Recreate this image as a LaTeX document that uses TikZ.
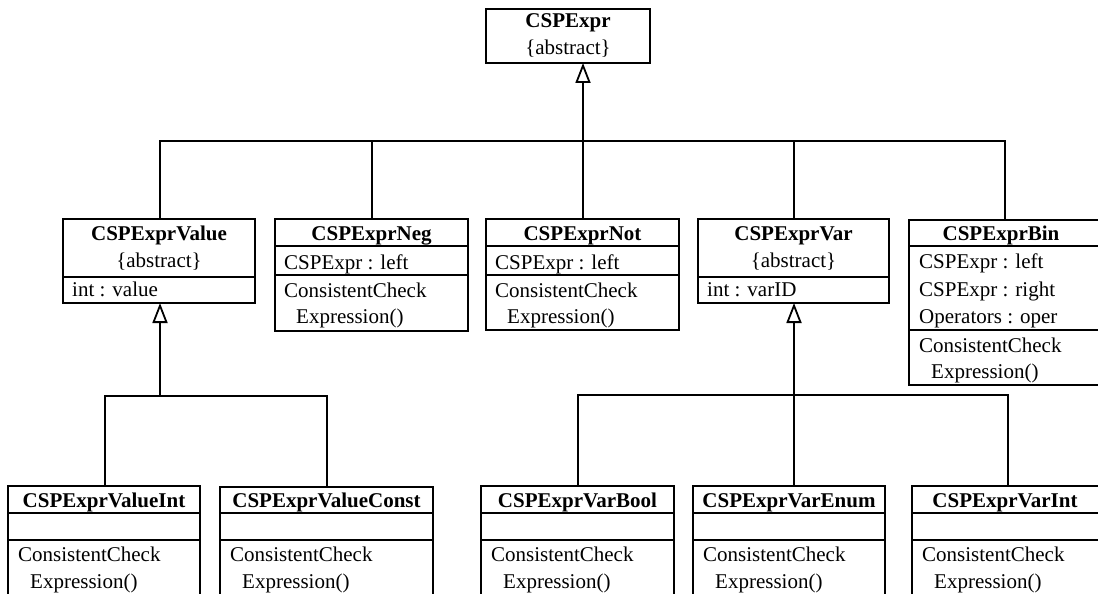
\documentclass[tikz,border=0pt]{standalone}
\usepackage{fontspec}
\setmainfont{Liberation Serif}
\usetikzlibrary{arrows.meta}

\tikzset{
  cls/.style={draw, line width=1.8pt, anchor=north west, inner sep=0pt, outer sep=0pt},
  sep/.style={line width=1.8pt},
  ttl/.style={anchor=base, inner sep=0pt, font=\fontsize{21}{25}\selectfont\bfseries},
  mid/.style={anchor=base, inner sep=0pt, font=\fontsize{21}{25}\selectfont},
  txt/.style={anchor=base west, inner sep=0pt, font=\fontsize{21}{25}\selectfont},
  link/.style={line width=1.8pt},
  inherit/.style={link, -{Triangle[open, length=20pt, width=15pt, line width=1.8pt]}},
}

\begin{document}
\begin{tikzpicture}[x=1pt, y=-1pt]
\useasboundingbox (0,0) rectangle (1098,594);
\clip (0,0) rectangle (1098,594);

% ---------- root class ----------
\node[cls, minimum width=164pt, minimum height=54pt] (expr) at (486,9) {};
\node[ttl] (exprT) at (568,28) {CSPExpr};
\node[mid] (exprA) at (568,55) {\{abstract\}};

% ---------- second level ----------
% CSPExprValue
\node[cls, minimum width=192pt, minimum height=84pt] (val) at (63,219) {};
\node[ttl] (valT) at (159,240) {CSPExprValue};
\node[mid] (valA) at (159,267) {\{abstract\}};
\draw[sep] (63,277) -- (255,277);
\node[txt] (valF) at (72,296) {int : value};

% CSPExprNeg
\node[cls, minimum width=193pt, minimum height=112pt] (neg) at (275,219) {};
\node[ttl] (negT) at (371.5,240) {CSPExprNeg};
\draw[sep] (275,246) -- (468,246);
\node[txt] (negF) at (284,269) {CSPExpr : left};
\draw[sep] (275,275) -- (468,275);
\node[txt] (negM1) at (284,297) {ConsistentCheck};
\node[txt] (negM2) at (296,323) {Expression()};

% CSPExprNot
\node[cls, minimum width=193pt, minimum height=111pt] (not) at (486,219) {};
\node[ttl] (notT) at (582.5,240) {CSPExprNot};
\draw[sep] (486,246) -- (679,246);
\node[txt] (notF) at (495,269) {CSPExpr : left};
\draw[sep] (486,275) -- (679,275);
\node[txt] (notM1) at (495,297) {ConsistentCheck};
\node[txt] (notM2) at (507,323) {Expression()};

% CSPExprVar
\node[cls, minimum width=191pt, minimum height=84pt] (var) at (698,219) {};
\node[ttl] (varT) at (793.5,240) {CSPExprVar};
\node[mid] (varA) at (793.5,267) {\{abstract\}};
\draw[sep] (698,277) -- (889,277);
\node[txt] (varF) at (707,296) {int : varID};

% CSPExprBin
\node[cls, minimum width=193pt, minimum height=165pt] (bin) at (909,220) {};
\node[ttl] (binT) at (1001,240) {CSPExprBin};
\draw[sep] (909,246) -- (1102,246);
\node[txt] (binF1) at (919,268) {CSPExpr : left};
\node[txt] (binF2) at (919,296) {CSPExpr : right};
\node[txt] (binF3) at (919,323) {Operators : oper};
\draw[sep] (909,330) -- (1102,330);
\node[txt] (binM1) at (919,352) {ConsistentCheck};
\node[txt] (binM2) at (931,378) {Expression()};

% ---------- third level ----------
% CSPExprValueInt
\node[cls, minimum width=192pt, minimum height=130pt] (vint) at (8,486) {};
\node[ttl] (vintT) at (104,507) {CSPExprValueInt};
\draw[sep] (8,513) -- (200,513);
\draw[sep] (8,540) -- (200,540);
\node[txt] (vintM1) at (18,561) {ConsistentCheck};
\node[txt] (vintM2) at (30,588) {Expression()};

% CSPExprValueConst
\node[cls, minimum width=213pt, minimum height=130pt] (vconst) at (220,487) {};
\node[ttl] (vconstT) at (326.5,507) {CSPExprValueConst};
\draw[sep] (220,513) -- (433,513);
\draw[sep] (220,540) -- (433,540);
\node[txt] (vconstM1) at (230,561) {ConsistentCheck};
\node[txt] (vconstM2) at (242,588) {Expression()};

% CSPExprVarBool
\node[cls, minimum width=193pt, minimum height=130pt] (vbool) at (481,486) {};
\node[ttl] (vboolT) at (577.5,507) {CSPExprVarBool};
\draw[sep] (481,513) -- (674,513);
\draw[sep] (481,540) -- (674,540);
\node[txt] (vboolM1) at (491,561) {ConsistentCheck};
\node[txt] (vboolM2) at (503,588) {Expression()};

% CSPExprVarEnum
\node[cls, minimum width=192pt, minimum height=130pt] (venum) at (693,486) {};
\node[ttl] (venumT) at (789,507) {CSPExprVarEnum};
\draw[sep] (693,513) -- (885,513);
\draw[sep] (693,540) -- (885,540);
\node[txt] (venumM1) at (703,561) {ConsistentCheck};
\node[txt] (venumM2) at (715,588) {Expression()};

% CSPExprVarInt
\node[cls, minimum width=190pt, minimum height=130pt] (vvint) at (912,486) {};
\node[ttl] (vvintT) at (1005,507) {CSPExprVarInt};
\draw[sep] (912,513) -- (1102,513);
\draw[sep] (912,540) -- (1102,540);
\node[txt] (vvintM1) at (922,561) {ConsistentCheck};
\node[txt] (vvintM2) at (934,588) {Expression()};

% ---------- generalisation connectors ----------
\coordinate (ej) at (583,141);
\coordinate (vj) at (160,396);
\coordinate (rj) at (794,395);

\draw[inherit] (ej) -- (ej |- expr.south);
\draw[link] (val.north -| 160,0) |- (ej);
\draw[link] (neg.north -| 372,0) |- (ej);
\draw[link] (not.north -| 583,0) -- (ej);
\draw[link] (var.north -| 794,0) |- (ej);
\draw[link] (bin.north -| 1005,0) |- (ej);

\draw[inherit] (vj) -- (vj |- val.south);
\draw[link] (vint.north -| 105,0) |- (vj);
\draw[link] (vconst.north -| 327,0) |- (vj);

\draw[inherit] (rj) -- (rj |- var.south);
\draw[link] (vbool.north -| 578,0) |- (rj);
\draw[link] (venum.north -| rj) -- (rj);
\draw[link] (vvint.north -| 1008,0) |- (rj);
\end{tikzpicture}
\end{document}
